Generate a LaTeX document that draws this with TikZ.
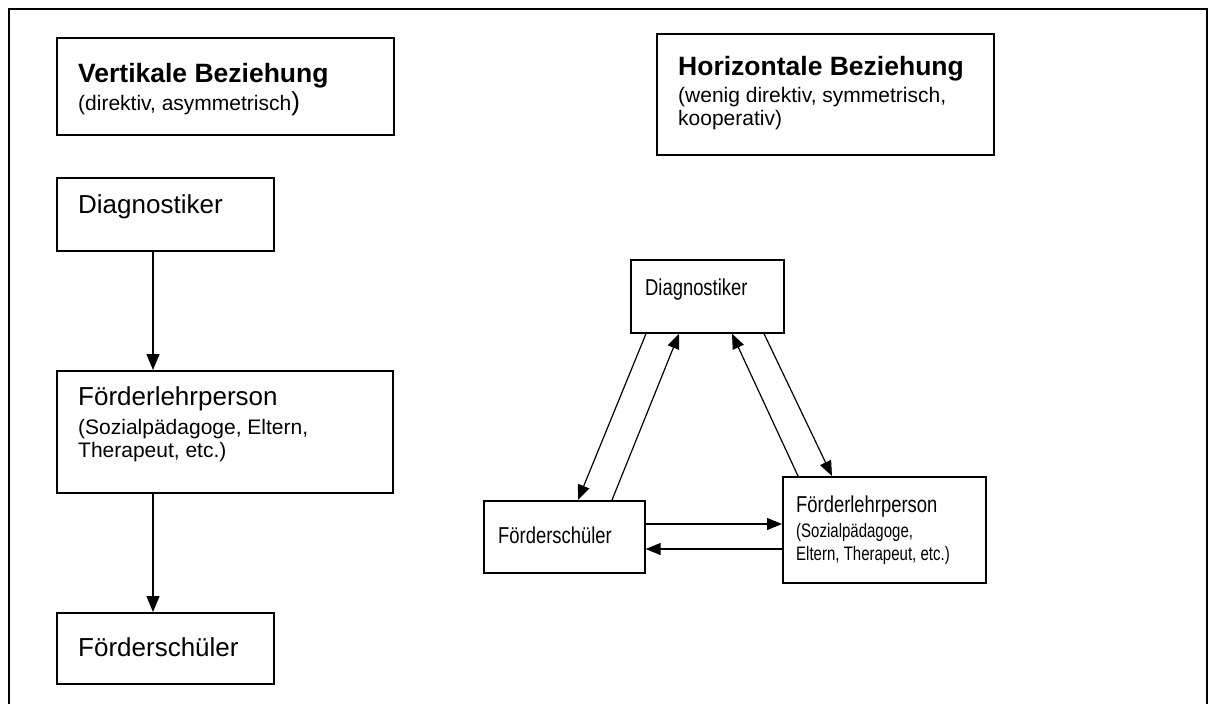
\documentclass[tikz,border=0pt]{standalone}
\usepackage{fontspec}
\usepackage{graphicx}
\setmainfont{Liberation Sans}
\usetikzlibrary{arrows.meta}
\newcommand{\fsz}[1]{\fontsize{#1}{#1}\selectfont}
\newcommand{\rsq}[1]{\scalebox{0.8}[1]{#1}}
\newcommand{\rsqs}[1]{\scalebox{0.77}[1]{#1}}
\begin{document}
\begin{tikzpicture}[x=1pt,y=-1pt,
  box/.style={draw, line width=1.7pt, rectangle, inner sep=0pt, anchor=north west},
  txt/.style={anchor=base west, inner sep=0pt},
  arr/.style={line width=1.4pt, -{Triangle[length=16pt,width=13pt]}},
  sarr/.style={line width=1.2pt, -{Triangle[length=15pt,width=12pt]}}]
\useasboundingbox (0,0) rectangle (1210,704);
\draw[line width=1.7pt] (9,740) -- (9,9) -- (1207,9) -- (1207,740);

% left column
\node[box, minimum width=337pt, minimum height=97pt] (vbox) at (56,37) {};
\node[box, minimum width=217pt, minimum height=73pt] (ld) at (56,177) {};
\node[box, minimum width=336pt, minimum height=122pt] (lfl) at (56,370) {};
\node[box, minimum width=217pt, minimum height=71pt] (lfs) at (56,612) {};

\node[txt] (vboxt) at (78,82) {\vtop{\baselineskip=28pt
  \hbox{\fsz{26.5}\bfseries Vertikale Beziehung}
  \hbox{\fsz{21}(direktiv, asymmetrisch{\fsz{26})}}}};
\node[txt] (ldt) at (78,213) {\fsz{26}Diagnostiker};
\node[txt] (lflt) at (78,405) {\vtop{\baselineskip=29pt
  \hbox{\fsz{26}Förderlehrperson}
  \hbox{\fsz{21}(Sozialpädagoge, Eltern,}\baselineskip=23pt
  \hbox{\fsz{21}Therapeut, etc.)}}};
\node[txt] (lfst) at (78,656) {\fsz{26}Förderschüler};

\draw[arr] ([xshift=97pt]ld.south west) -- ([xshift=97pt]lfl.north west);
\draw[arr] ([xshift=97pt]lfl.south west) -- ([xshift=97pt]lfs.north west);

% right part
\node[box, minimum width=337pt, minimum height=121pt] (hbox) at (656,33) {};
\node[box, minimum width=153pt, minimum height=73pt] (rd) at (630,259) {};
\node[box, minimum width=161pt, minimum height=72pt] (rfs) at (483,500) {};
\node[box, minimum width=203pt, minimum height=106pt] (rfl) at (782,476) {};

\node[txt] (hboxt) at (678,75) {\vtop{\baselineskip=27pt
  \hbox{\fsz{26.5}\bfseries Horizontale Beziehung}
  \hbox{\fsz{21}(wenig direktiv, symmetrisch,}\baselineskip=23pt
  \hbox{\fsz{21}kooperativ)}}};
\node[txt] (rdt) at (645,295) {\rsq{\fsz{23}Diagnostiker}};
\node[txt] (rfst) at (498,543) {\rsq{\fsz{23}Förderschüler}};
\node[txt] (rflt) at (796,512) {\vtop{\baselineskip=25pt
  \hbox{\rsq{\fsz{23}Förderlehrperson}}
  \hbox{\rsqs{\fsz{19.5}(Sozialpädagoge,}}\baselineskip=23pt
  \hbox{\rsqs{\fsz{19.5}Eltern, Therapeut, etc.)}}}};

\draw[sarr] ([xshift=16pt]rd.south west) -- ([xshift=95pt]rfs.north west);
\draw[sarr] ([xshift=129pt]rfs.north west) -- ([xshift=49pt]rd.south west);
\draw[sarr] ([xshift=16pt]rfl.north west) -- ([xshift=102pt]rd.south west);
\draw[sarr] ([xshift=134pt]rd.south west) -- ([xshift=50pt]rfl.north west);
\draw[sarr] ([yshift=-24pt]rfs.north east) -- ([yshift=-48pt]rfl.north west);
\draw[sarr] ([yshift=-73pt]rfl.north west) -- ([yshift=-49pt]rfs.north east);
\end{tikzpicture}
\end{document}
